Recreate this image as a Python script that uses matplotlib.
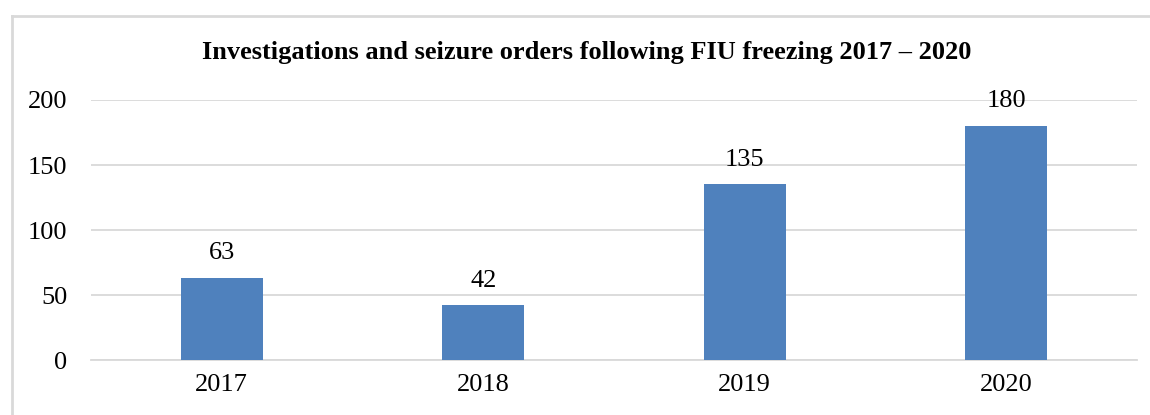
import matplotlib
matplotlib.use("Agg")
import matplotlib.pyplot as plt
from matplotlib.lines import Line2D

years = ["2017", "2018", "2019", "2020"]
values = [63, 42, 135, 180]
yticks = [0, 50, 100, 150, 200]
title = "Investigations and seizure orders following FIU freezing 2017 \u2013 2020"

plt.rcParams['font.family'] = ['Liberation Serif', 'DejaVu Serif']

fig = plt.figure(figsize=(11.5, 4.15), dpi=100)
ax = fig.add_axes([91/1150, 1-360/415, (1137-91)/1150, 260/415])

x = range(len(years))
bars = ax.bar(x, values, width=0.314, color="#4F81BD", zorder=3)
ax.set_xlim(-0.5, len(years)-0.5)
ax.set_ylim(0, 200)
ax.set_yticks(yticks)
ax.set_yticklabels([str(t) for t in yticks], fontsize=19)
ax.set_xticks(list(x))
ax.set_xticklabels(years, fontsize=19)
ax.grid(axis="y", color="#D9D9D9", linewidth=1.3, zorder=0)
for s in ["top", "right", "left"]:
    ax.spines[s].set_visible(False)
ax.spines["bottom"].set_color("#D9D9D9")
ax.spines["bottom"].set_linewidth(1.3)
ax.tick_params(axis="both", length=0, colors="black")
ax.tick_params(axis="y", pad=17)
ax.tick_params(axis="x", pad=10)

for xi, v in zip(x, values):
    ax.annotate(str(v), (xi, v), xytext=(0, 10), textcoords="offset points",
                ha="center", va="bottom", fontsize=19)

fig.text(587/1150, 1-53/415, title, ha="center", va="center",
         fontsize=19, fontweight="bold")

x0 = 11.5/1150
y0 = 1 - 16.5/415
fig.add_artist(Line2D([x0, 1.0], [y0, y0], transform=fig.transFigure,
                      color="#D9D9D9", linewidth=2))
fig.add_artist(Line2D([x0, x0], [0, y0], transform=fig.transFigure,
                      color="#D9D9D9", linewidth=2))

fig.savefig("out.png", dpi=100)
